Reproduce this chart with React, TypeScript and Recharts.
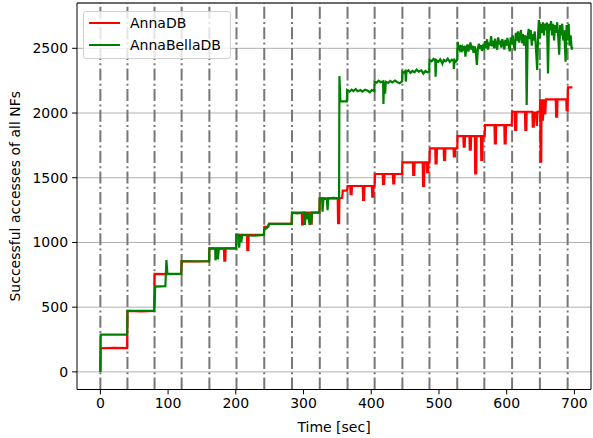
import {
  LineChart,
  Line,
  XAxis,
  YAxis,
  CartesianGrid,
  ReferenceLine,
  Legend,
  Label,
} from "recharts";

// [time (sec), successful accesses]
const annaDB: [number, number][] = [
  [0, 0], [0.5, 183], [20, 185], [39.5, 183], [40, 471], [60, 468], [79.5, 471],
  [80, 757], [100, 755], [119.5, 757], [120, 855], [140, 853], [160.5, 855],
  [161, 955], [170, 953], [182.5, 955], [183, 860], [184.5, 860], [185, 955], [200.5, 955],
  [201, 1058], [216.5, 1058], [217, 942], [218.5, 942], [219, 1058], [241.5, 1058],
  [242, 1120], [248, 1122], [249, 1143], [282.5, 1143],
  [283, 1230], [297.5, 1230], [298, 1140], [299.5, 1140], [300, 1230], [310, 1230],
  [310.5, 1145], [312, 1145], [312.5, 1230], [323.5, 1230],
  [324, 1341], [350.5, 1341], [351, 1150], [352.5, 1150], [353, 1341], [357, 1345],
  [358, 1400], [364.5, 1400],
  [365, 1436], [369, 1436], [369.5, 1374], [371, 1374], [371.5, 1436], [387.5, 1436],
  [388, 1328], [389.5, 1328], [390, 1436], [401, 1436], [401.5, 1354], [403, 1354],
  [403.5, 1436], [405, 1436],
  [405.5, 1529], [417, 1529], [417.5, 1452], [419, 1452], [419.5, 1529], [432, 1529],
  [432.5, 1457], [434, 1457], [434.5, 1529], [445.5, 1529],
  [446, 1619], [461.5, 1619], [462, 1521], [463.5, 1521], [464, 1619], [476, 1619],
  [476.5, 1436], [478, 1436], [478.5, 1619], [482, 1619], [482.5, 1544], [484, 1544],
  [484.5, 1619], [486, 1619],
  [486.5, 1727], [494.5, 1727], [495, 1611], [496.5, 1611], [497, 1727], [507, 1727],
  [507.5, 1637], [509, 1637], [509.5, 1727], [521.5, 1727], [522, 1664], [523.5, 1664],
  [524, 1727], [527, 1727],
  [527.5, 1822], [536, 1822], [536.5, 1740], [538, 1740], [538.5, 1822], [545, 1822],
  [545.5, 1717], [547, 1717], [547.5, 1822], [553, 1822], [553.5, 1534], [555, 1534],
  [555.5, 1822], [562, 1822], [562.5, 1637], [564, 1637], [564.5, 1822], [567.5, 1822],
  [568, 1907], [582, 1907], [582.5, 1766], [584, 1766], [584.5, 1907], [596.5, 1907],
  [597, 1766], [598.5, 1766], [599, 1907], [607.5, 1907],
  [608, 2010], [612, 2010], [612.5, 1869], [614, 1869], [614.5, 2010], [627, 2010],
  [627.5, 1869], [629, 1869], [629.5, 2010], [638, 2010], [638.5, 1895], [640, 1895],
  [640.5, 2010], [642, 1960], [643, 2010], [644.5, 1900], [645.5, 2010], [649, 2010],
  [649.5, 2106], [650, 1624], [651, 1624], [651.5, 2106], [653.5, 1940], [654.5, 2106],
  [657, 1990], [658, 2106], [672.5, 2106], [673, 1972], [674.5, 1972], [675, 2106],
  [688, 2106], [688.5, 2023], [690, 2023], [690.5, 2198], [697, 2198],
];

const annaBellaDB: [number, number][] = [
  [0, 0], [0.5, 288], [39.5, 288], [40, 471], [79.5, 471],
  [81, 659], [96, 662], [97.5, 865], [99, 757], [119.5, 757],
  [120, 855], [160.5, 855],
  [161, 955], [169.5, 955], [170, 862], [171.5, 955], [173, 955], [173.5, 870], [175, 955],
  [200.5, 955],
  [201, 1058], [204.5, 1058], [205, 960], [206.5, 1058], [208, 1000], [209.5, 1058],
  [225, 1052], [241.5, 1058],
  [242, 1100], [246, 1112], [249, 1143], [282.5, 1143],
  [283, 1230], [290, 1225], [301.5, 1230], [302, 1135], [303, 1230], [305.5, 1180],
  [306.5, 1230], [309, 1135], [310, 1230], [311.5, 1150], [312.5, 1230], [323.5, 1230],
  [324, 1341], [327.5, 1341], [328, 1238], [329.5, 1341], [334.5, 1335], [335.5, 1250],
  [336.5, 1341], [345, 1345], [352.5, 1341],
  [353, 2285], [354.5, 2090], [364, 2090],
  [364.5, 2178], [368, 2165], [371, 2180], [374, 2170], [377, 2185], [380, 2168],
  [384, 2178], [387, 2165], [391, 2180], [395, 2172], [398, 2160], [401, 2178], [404.5, 2170],
  [405, 2242], [408, 2235], [411, 2250], [414, 2238], [417.5, 2245], [418, 2069], [419, 2242],
  [420.5, 2150], [421.5, 2242], [425, 2232], [428, 2248], [431, 2236], [435, 2250],
  [438, 2240], [442, 2230], [445.5, 2245],
  [446, 2319], [448, 2312], [450.5, 2325], [451, 2243], [452, 2319], [455, 2330],
  [458, 2310], [461, 2325], [464, 2315], [467, 2335], [470, 2320], [474, 2330],
  [477, 2305], [480, 2325], [483, 2315], [485.5, 2320],
  [486, 2409], [489, 2400], [492, 2418], [494.5, 2405], [495, 2281], [496, 2409],
  [499, 2395], [502, 2415], [505, 2380], [507, 2410], [510, 2400], [513, 2420],
  [516, 2395], [519, 2412], [521.5, 2405], [522, 2340], [523, 2409], [525, 2398], [527, 2410],
  [527.5, 2550], [529, 2510], [530.5, 2490], [532, 2525], [533.5, 2470], [535, 2505],
  [536.5, 2480], [538, 2520], [539, 2435], [540.5, 2500], [542, 2530], [543.5, 2475],
  [545, 2510], [546.5, 2545], [548, 2490], [549.5, 2520], [551, 2465], [552.5, 2515],
  [554, 2490], [556, 2371], [557.5, 2500], [559, 2535], [560.5, 2495], [562, 2525],
  [563.5, 2480], [565, 2515], [566.5, 2500], [568, 2555], [569.5, 2500], [571, 2570],
  [572.5, 2490], [574, 2545], [575.5, 2520], [577, 2595], [578.5, 2515], [580, 2560],
  [581.5, 2500], [583, 2575], [584.5, 2520], [586, 2490], [587.5, 2585], [589, 2530],
  [590.5, 2560], [592, 2505], [593.5, 2570], [595, 2540], [596.5, 2490], [598, 2565],
  [599.5, 2520], [601, 2580], [602.5, 2535], [604.5, 2476], [606, 2585], [607.5, 2530],
  [609, 2600], [610.5, 2520], [612, 2482], [613.5, 2620], [615, 2560], [616.5, 2630],
  [618, 2545], [619.5, 2600], [621, 2641], [622.5, 2540], [624, 2610], [625.5, 2520],
  [627, 2600], [628.5, 2580], [629.5, 2062], [631, 2590], [632.5, 2650], [634, 2570],
  [635.5, 2640], [637, 2520], [638.5, 2610], [640, 2560], [641.5, 2630], [643, 2520],
  [645, 2332], [646.5, 2620], [647.5, 2718], [649, 2580], [650.5, 2690], [652, 2620],
  [653.5, 2700], [655, 2600], [656.5, 2690], [658, 2640], [659.5, 2700], [661, 2306],
  [662.5, 2690], [664, 2640], [665.5, 2710], [667, 2600], [668.5, 2690], [670, 2560],
  [671.5, 2680], [673, 2620], [674.5, 2700], [676, 2600], [677.5, 2450], [679, 2680],
  [680.5, 2600], [682, 2690], [683.5, 2560], [685, 2640], [687, 2396], [688.5, 2680],
  [690, 2560], [691.5, 2690], [693, 2520], [694.5, 2600], [696, 2490], [697, 2512],
];

// dash-dot markers at each phase change
const phaseTimes = [0, 40, 80, 120, 161, 201, 242, 283, 324, 365, 405, 446, 486, 527, 567, 608, 649, 690];

const xTicks = [0, 100, 200, 300, 400, 500, 600, 700];
const yTicks = [0, 500, 1000, 1500, 2000, 2500];

const xDomain: [number, number] = [-34.5, 724.5];
const yDomain: [number, number] = [-136, 2850];

const series = [
  { name: "AnnaDB", color: "#ff0000", points: annaDB },
  { name: "AnnaBellaDB", color: "#008000", points: annaBellaDB },
];

const font = "'DejaVu Sans', sans-serif";

const renderLegend = () => (
  <div
    style={{
      width: 146,
      height: 46,
      border: "1px solid #d0d0d0",
      borderRadius: 3,
      background: "rgba(255,255,255,0.8)",
      fontFamily: font,
      fontSize: 14,
      position: "relative",
    }}
  >
    {series.map((s, i) => (
      <div
        key={s.name}
        style={{ position: "absolute", left: 5, top: 2 + i * 21.5, height: 18, display: "flex", alignItems: "center" }}
      >
        <span style={{ display: "inline-block", width: 31, height: 2, background: s.color }} />
        <span style={{ marginLeft: 10, color: "#000" }}>{s.name}</span>
      </div>
    ))}
  </div>
);

const App = () => {
  return (
    <div style={{ width: 593, height: 438, position: "relative" }}>
      <style>{"body{margin:0}"}</style>
      <LineChart width={593} height={438} margin={{ top: 3, right: 2, left: 0, bottom: 0 }}>
        <CartesianGrid vertical={false} stroke="#b0b0b0" strokeWidth={1} />
        <XAxis
          type="number"
          dataKey="t"
          domain={xDomain}
          allowDataOverflow
          ticks={xTicks}
          height={48.5}
          tickSize={4.9}
          tickMargin={4}
          tickLine={{ stroke: "#000" }}
          axisLine={{ stroke: "#000" }}
          tick={{ fill: "#000", fontSize: 14, fontFamily: font }}
        >
          <Label
            value="Time [sec]"
            position="insideBottom"
            offset={6}
            style={{ fill: "#000", fontSize: 14, fontFamily: font }}
          />
        </XAxis>
        <YAxis
          type="number"
          domain={yDomain}
          allowDataOverflow
          ticks={yTicks}
          width={77}
          tickSize={4.9}
          tickMargin={4}
          tickLine={{ stroke: "#000" }}
          axisLine={{ stroke: "#000" }}
          tick={{ fill: "#000", fontSize: 14, fontFamily: font }}
        >
          <Label
            content={({ viewBox }: any) => {
              const cy = viewBox.y + viewBox.height / 2;
              return (
                <text
                  x={15}
                  y={cy}
                  transform={`rotate(-90 15 ${cy})`}
                  textAnchor="middle"
                  dominantBaseline="central"
                  fill="#000"
                  fontSize={14}
                  fontFamily={font}
                >
                  Successful accesses of all NFs
                </text>
              );
            }}
          />
        </YAxis>
        {phaseTimes.map((t) => (
          <ReferenceLine key={t} x={t} stroke="#777" strokeWidth={2} strokeDasharray="12 3.3 2 3.3" />
        ))}
        <ReferenceLine y={yDomain[1]} stroke="#000" />
        <ReferenceLine x={xDomain[1]} stroke="#000" />
        {series.map((s) => (
          <Line
            key={s.name}
            name={s.name}
            data={s.points.map(([t, v]) => ({ t, v }))}
            dataKey="v"
            type="linear"
            stroke={s.color}
            strokeWidth={2.2}
            dot={false}
            activeDot={false}
            isAnimationActive={false}
          />
        ))}
        <Legend
          layout="vertical"
          align="center"
          verticalAlign="middle"
          content={renderLegend}
          wrapperStyle={{ left: 83, top: 11, width: "auto", height: "auto" }}
        />
      </LineChart>
    </div>
  );
};

export default App;
